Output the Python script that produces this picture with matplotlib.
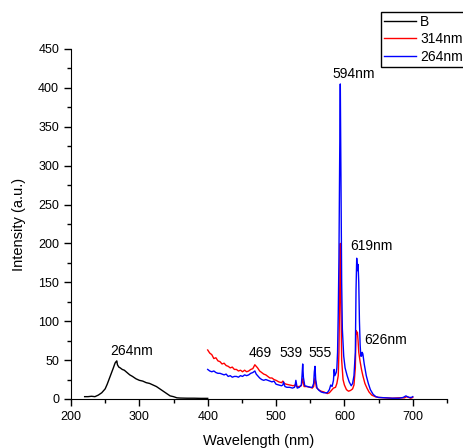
import matplotlib.pyplot as plt
from matplotlib.ticker import MultipleLocator

plt.rcParams['font.family'] = ['Liberation Sans', 'DejaVu Sans']

# B  (excitation spectrum)
wl_b = [220, 225, 230, 235, 240, 245, 250, 253, 256, 259, 262, 264, 265, 266, 267,
        268, 270, 272, 275, 278, 282, 286, 290, 295, 300, 305, 310, 315, 320, 325,
        330, 335, 340, 345, 350, 355, 360, 370, 380, 390, 400]
int_b = [3, 3, 3.5, 3, 5, 8, 13, 19, 26, 33, 40, 45, 47, 48, 49,
         44, 41, 40, 38, 37, 34, 31, 29, 26, 24, 23, 21, 20, 18, 16,
         13, 10, 7, 4, 3, 1.5, 1.2, 1, 1, 0.8, 0.8]

# 314nm excitation emission
wl_r = [400, 403, 406, 409, 412, 415, 418, 421, 424, 427, 430, 433, 436, 439, 442,
        445, 448, 451, 454, 457, 460, 463, 466, 469, 471, 473, 476, 479, 482, 485,
        488, 491, 494, 497, 500, 504, 508, 510, 512, 515, 520, 525, 528, 530, 534,
        537, 539, 541, 545, 550, 553, 555, 557, 559, 562, 566, 570, 575, 578, 581,
        584, 587, 589, 591, 592, 593, 594, 595, 596, 598, 600, 603, 606, 609, 612,
        614, 616, 617, 618, 619, 620, 621, 623, 625, 627, 630, 633, 636, 640, 645,
        650, 660, 670, 680, 688, 691, 694, 697, 700]
int_r = [63, 59, 57, 52, 53, 49, 48, 45, 46, 43, 42, 40, 41, 38, 38,
         36, 37, 35, 37, 35, 36, 38, 39, 44, 42, 40, 36, 34, 32, 31,
         29, 27, 27, 25, 24, 22, 21, 23, 20, 19, 18, 17, 18, 16, 16,
         17, 26, 16, 16, 15, 14, 16, 27, 15, 12, 10, 9, 7, 8, 11,
         14, 15, 20, 30, 60, 130, 200, 120, 50, 25, 18, 12, 10, 11, 13,
         18, 40, 88, 84, 86, 75, 60, 48, 38, 30, 20, 14, 9, 5, 3,
         2, 1.5, 1, 1.5, 1.5, 3, 2, 1, 2]

# 264nm excitation emission
wl_bl = [400, 403, 406, 409, 412, 415, 418, 421, 424, 427, 430, 433, 436, 439, 442,
         445, 448, 451, 454, 457, 460, 463, 466, 469, 471, 473, 476, 479, 482, 485,
         488, 491, 494, 497, 500, 504, 508, 510, 511, 513, 516, 520, 524, 527, 528,
         529, 531, 534, 537, 538, 539, 540, 542, 546, 550, 553, 555, 556, 557, 558,
         560, 563, 566, 570, 575, 578, 580, 582, 584, 585, 586, 588, 589, 590, 591,
         592, 593, 594, 595, 596, 597, 599, 601, 604, 607, 610, 612, 614, 616, 617,
         618, 619, 620, 621, 622, 623, 624, 625, 626, 627, 629, 632, 635, 638, 642,
         646, 650, 660, 670, 680, 686, 690, 692, 695, 698, 700]
int_bl = [38, 36, 35, 36, 34, 33, 33, 32, 31, 32, 29, 30, 28, 29, 29,
          28, 30, 29, 31, 30, 31, 33, 34, 36, 32, 30, 27, 25, 24, 25,
          24, 23, 22, 23, 19, 18, 17, 18, 22, 16, 15, 15, 14, 15, 18,
          24, 14, 15, 18, 30, 45, 28, 17, 16, 15, 15, 20, 35, 42, 25,
          14, 11, 9, 8, 8, 12, 18, 16, 24, 38, 30, 34, 40, 60, 110,
          180, 300, 405, 280, 150, 90, 55, 40, 30, 22, 17, 20, 30, 60, 140,
          181, 165, 173, 150, 100, 70, 55, 55, 60, 58, 45, 30, 20, 12, 6,
          3, 2, 1.5, 1, 1, 2, 4, 3, 2, 2, 3]

labels = ['264nm', '469', '539', '555', '594nm', '619nm', '626nm']
label_x = [288, 477, 522, 564, 613, 640, 660]
label_y = [62, 59, 59, 59, 418, 197, 76]

fig = plt.figure(figsize=(4.63, 4.48), dpi=100)
ax = fig.add_axes([0.1533, 0.1094, 0.812, 0.7813])

ax.plot(wl_b, int_b, color='black', lw=1, label='B')
ax.plot(wl_r, int_r, color='red', lw=1, label='314nm')
ax.plot(wl_bl, int_bl, color='blue', lw=1, label='264nm')

for t, x, y in zip(labels, label_x, label_y):
    ax.text(x, y, t, ha='center', va='center', fontsize=10)

ax.set_xlim(200, 750)
ax.set_ylim(0, 450)
ax.xaxis.set_minor_locator(MultipleLocator(50))
ax.yaxis.set_major_locator(MultipleLocator(50))
ax.yaxis.set_minor_locator(MultipleLocator(25))
ax.set_xticks([200, 300, 400, 500, 600, 700])
ax.tick_params(which='major', direction='out', length=5, width=1, labelsize=9)
ax.tick_params(which='minor', direction='out', length=3, width=1)
ax.spines['top'].set_visible(False)
ax.spines['right'].set_visible(False)

ax.set_xlabel('Wavelength (nm)', fontsize=10.5, labelpad=8)
ax.set_ylabel('Intensity (a.u.)', fontsize=10.5, labelpad=9)

leg = fig.legend(loc='upper left', bbox_to_anchor=(0.823, 0.973), fontsize=10,
                 frameon=True, fancybox=False, edgecolor='black', framealpha=1,
                 handlelength=2.3, handletextpad=0.3, labelspacing=0.25,
                 borderpad=0.2, borderaxespad=0)
leg.get_frame().set_linewidth(1)

fig.savefig('out.png', dpi=100)
